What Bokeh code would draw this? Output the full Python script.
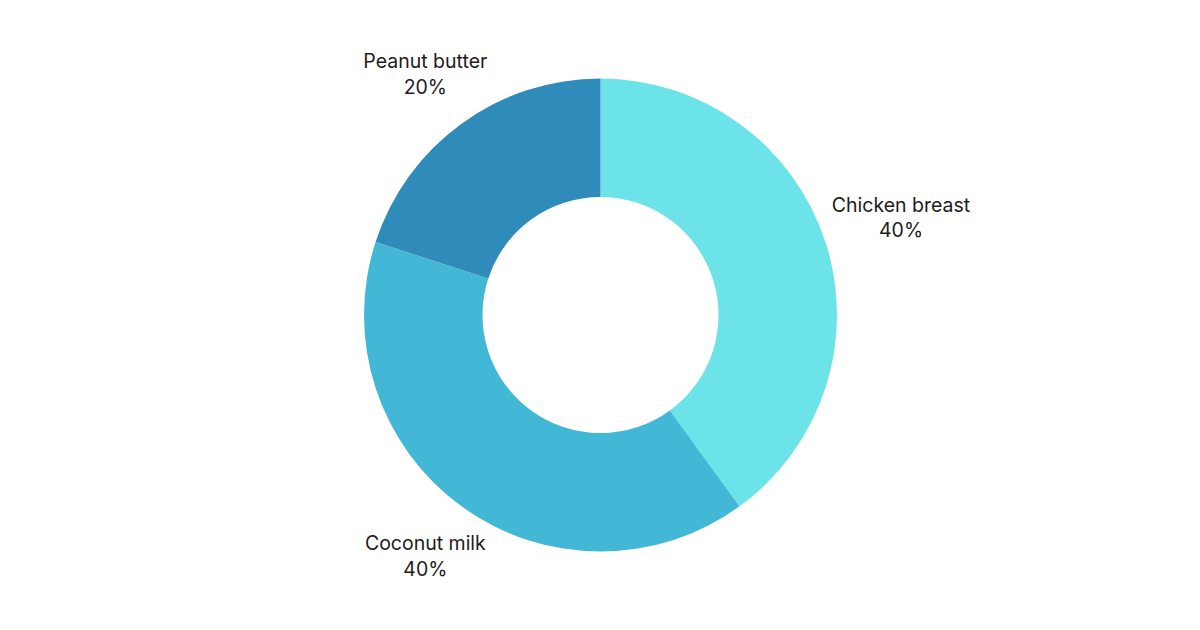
import math
from bokeh.plotting import figure
from bokeh.models import ColumnDataSource, Range1d
from bokeh.core.properties import value
from bokeh.embed import file_html
from bokeh.resources import INLINE

categories = ["Chicken breast", "Coconut milk", "Peanut butter"]
shares = [40, 40, 20]
colors = ["#6BE3E8", "#43B8D6", "#2E8BBA"]

W, H = 1184, 614
cx, cy = 600, 299.5
R_OUT, R_IN = 236.5, 118

total = sum(shares)
starts, ends, mids = [], [], []
cum = 0
for s in shares:
    a0 = math.pi / 2 - 2 * math.pi * cum / total
    cum += s
    a1 = math.pi / 2 - 2 * math.pi * cum / total
    starts.append(a0)
    ends.append(a1)
    mids.append((a0 + a1) / 2)

src = ColumnDataSource(dict(start=starts, end=ends, color=colors,
                            x=[cx] * len(shares), y=[cy] * len(shares)))

p = figure(width=W, height=H, output_backend="svg", toolbar_location=None,
           x_range=Range1d(0, W), y_range=Range1d(0, H), min_border=0)
p.axis.visible = False
p.grid.visible = False
p.outline_line_color = None
p.background_fill_color = "white"

p.annular_wedge(x="x", y="y", inner_radius=R_IN, outer_radius=R_OUT,
                start_angle="start", end_angle="end", direction="clock",
                fill_color="color", line_color=None, source=src)

lx, ly, lt = [], [], []
for cat, s, m in zip(categories, shares, mids):
    c, sn = math.cos(m), math.sin(m)
    lx.append(cx + 298 * c + 18 * max(c, 0))
    ly.append(cy + 298 * sn + 6 * max(c, 0))
    lt.append(f"{cat}\n{round(100 * s / total)}%")

p.text(x=lx, y=ly, text=lt, text_align="center", text_baseline="middle",
       text_font=value("Inter"), text_font_size="19.5px", text_color="#1c1c1c",
       text_line_height=1.05)

open("out.html", "w").write(file_html(p, INLINE))
